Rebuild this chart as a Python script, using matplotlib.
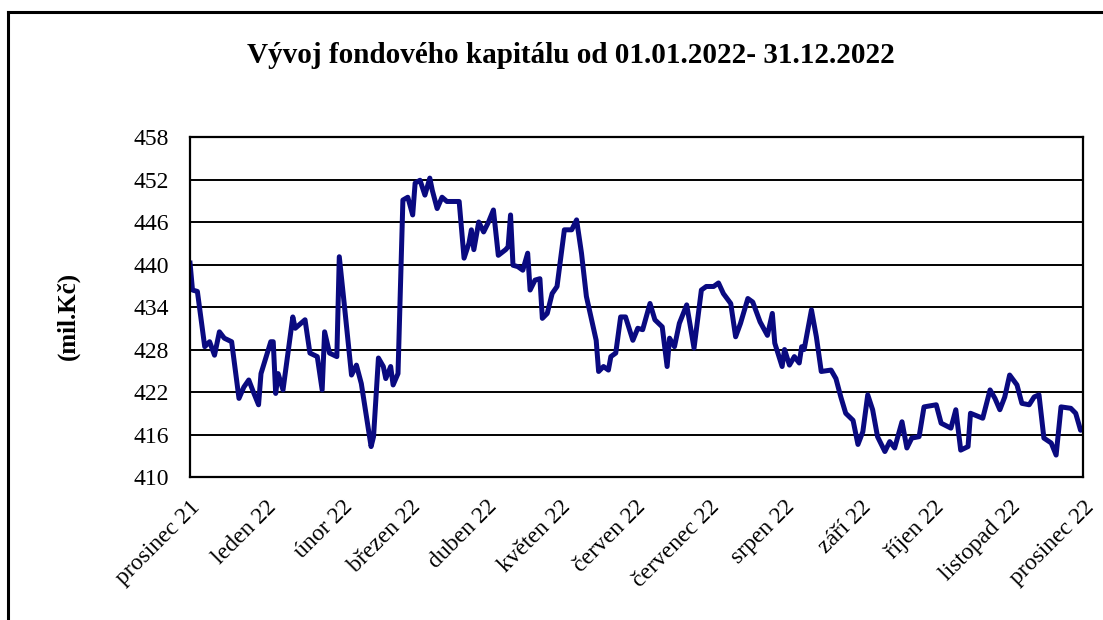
import numpy as np
import matplotlib
matplotlib.use('Agg')
import matplotlib.pyplot as plt
from matplotlib.lines import Line2D

# days since 1.12.2021 and fund capital (mil. Kč)
days = [0, 1, 3, 6, 8, 10, 12, 14, 17, 20, 22, 24, 26, 28, 29, 33, 34, 35, 36, 38,
        42, 43, 47, 49, 52, 54, 55, 57, 60, 61, 63, 66, 68, 70, 74, 75, 77, 79, 80, 82,
        83, 85, 87, 89, 91, 92, 94, 96, 98, 99, 101, 103, 105, 110, 112, 114, 115, 116, 118, 120,
        122, 124, 126, 129, 130, 131, 132, 134, 136, 138, 139, 141, 143, 144, 146, 148, 150, 153, 156, 158,
        160, 162, 166, 167, 169, 171, 172, 174, 176, 178, 181, 183, 185, 188, 190, 193, 195, 196, 198, 200,
        203, 206, 209, 211, 214, 216, 218, 221, 223, 225, 228, 230, 233, 236, 238, 239, 242, 243, 245, 247,
        249, 250, 251, 254, 256, 258, 262, 264, 266, 268, 271, 273, 275, 277, 279, 281, 284, 286, 288, 291,
        293, 295, 298, 300, 305, 307, 311, 313, 315, 318, 319, 324, 327, 329, 331, 333, 335, 338, 340, 343,
        345, 347, 349, 352, 354, 356, 360, 362, 364, 365]
values = [440.2, 436.4, 436.2, 428.4, 429.1, 427.2, 430.5, 429.6, 429.1, 421.1, 422.7, 423.7, 421.9, 420.2, 424.6, 429.1, 429.1, 421.8, 424.6, 422.3,
          432.6, 431.0, 432.2, 427.5, 427.0, 422.3, 430.5, 427.5, 427.0, 441.1, 434.5, 424.4, 425.8, 423.2, 414.3, 415.7, 426.8, 425.6, 423.9, 425.6,
          423.0, 424.6, 449.1, 449.5, 447.0, 451.5, 451.9, 449.8, 452.2, 450.5, 447.9, 449.5, 448.9, 448.9, 440.9, 443.0, 444.9, 442.1, 446.0, 444.6,
          446.0, 447.7, 441.3, 442.1, 442.5, 447.0, 439.9, 439.7, 439.2, 441.6, 436.4, 437.8, 438.0, 432.4, 433.1, 435.9, 436.9, 444.9, 444.9, 446.3,
          441.6, 435.5, 429.3, 424.9, 425.6, 425.1, 427.0, 427.5, 432.6, 432.6, 429.3, 431.0, 430.8, 434.5, 432.2, 431.2, 425.6, 429.6, 428.4, 431.7,
          434.3, 428.2, 436.4, 436.9, 436.9, 437.4, 435.9, 434.5, 429.8, 431.7, 435.2, 434.7, 431.9, 430.0, 433.1, 428.9, 425.6, 428.0, 425.8, 427.0,
          426.1, 428.4, 428.0, 433.6, 429.8, 424.9, 425.1, 423.9, 421.3, 419.0, 418.0, 414.6, 416.4, 421.6, 419.5, 415.7, 413.6, 415.0, 414.1, 417.8,
          414.1, 415.5, 415.7, 419.9, 420.2, 417.6, 416.9, 419.5, 413.8, 414.3, 419.0, 418.3, 422.3, 421.1, 419.5, 421.3, 424.4, 423.0, 420.4, 420.2,
          421.3, 421.6, 415.5, 414.8, 413.1, 419.9, 419.7, 419.0, 416.6, 416.8]

month_labels = ['prosinec 21', 'leden 22', 'únor 22', 'březen 22', 'duben 22', 'květen 22',
                'červen 22', 'červenec 22', 'srpen 22', 'září 22', 'říjen 22', 'listopad 22',
                'prosinec 22']

plt.rcParams['font.family'] = ['Liberation Serif', 'DejaVu Serif']

start = np.datetime64('2021-12-01')
dates = start + np.array(days).astype('timedelta64[D]')
month_ticks = np.arange('2021-12', '2023-01', dtype='datetime64[M]').astype('datetime64[D]')

fig = plt.figure(figsize=(11.03, 6.2), dpi=100)
ax = fig.add_axes([0.1723, 0.2306, 0.8096, 0.5484])

ax.plot(dates, values, color='#0a0a80', linewidth=3.6, solid_joinstyle='round')

ax.set_ylim(410, 458)
ax.set_yticks(np.arange(410, 459, 6))
ax.set_xlim(month_ticks[0], month_ticks[-1])
ax.set_xticks(month_ticks)
ax.set_xticklabels(month_labels, rotation=45, ha='right', rotation_mode='anchor')
ax.tick_params(axis='both', length=0, labelsize=17)
ax.tick_params(axis='y', pad=15)
ax.tick_params(axis='x', pad=14)
ax.yaxis.grid(True, color='black', linewidth=1.4)
for s in ax.spines.values():
    s.set_linewidth(1.6)

fig.text(0.518, 0.911, 'Vývoj fondového kapitálu od 01.01.2022- 31.12.2022',
         ha='center', va='center', fontsize=21, fontweight='bold')
fig.text(0.062, 0.49, '(mil.Kč)', rotation=90, ha='center', va='center',
         fontsize=18, fontweight='bold')

# outer frame of the chart area (left and top edges visible)
fig.add_artist(Line2D([8 / 1103, 8 / 1103], [0, 1 - 12 / 620], color='black', linewidth=2.2))
fig.add_artist(Line2D([8 / 1103, 1], [1 - 12 / 620, 1 - 12 / 620], color='black', linewidth=2.2))

fig.savefig('out.png', dpi=100)
